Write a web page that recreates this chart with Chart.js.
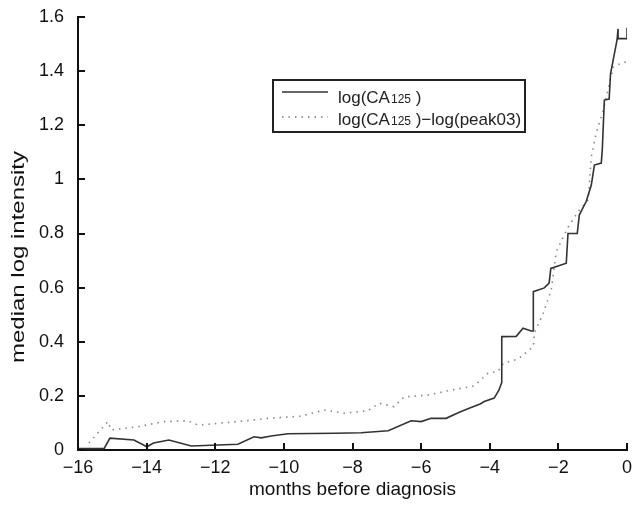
<!DOCTYPE html>
<html>
<head>
<meta charset="utf-8">
<script src="https://cdn.jsdelivr.net/npm/chart.js@4/dist/chart.umd.min.js"></script>
<style>
  html, body { margin: 0; padding: 0; background: #fff; }
  #wrap { width: 640px; height: 505px; }
</style>
</head>
<body>
<div id="wrap"><canvas id="chart"></canvas></div>
<script>
// months before diagnosis / median log intensity
let ca125X = [-16, -15.24, -15.07, -14.37, -13.99, -13.8, -13.35, -12.7, -11.34, -10.87, -10.66, -10.37, -9.88, -8.5, -7.75, -6.96, -6.29, -6.0, -5.71, -5.27, -4.92, -4.6, -4.28, -4.16, -3.87, -3.73, -3.65, -3.65, -3.23, -3.03, -2.79, -2.73, -2.73, -2.41, -2.27, -2.22, -2.01, -1.77, -1.72, -1.45, -1.39, -1.19, -1.04, -0.95, -0.75, -0.72, -0.66, -0.52, -0.48, -0.29, -0.26, -0.26, 0, 0]
let ca125Y = [0.005, 0.005, 0.044, 0.037, 0.012, 0.026, 0.037, 0.015, 0.021, 0.049, 0.045, 0.052, 0.06, 0.062, 0.064, 0.071, 0.108, 0.105, 0.117, 0.117, 0.138, 0.154, 0.17, 0.179, 0.192, 0.222, 0.25, 0.419, 0.42, 0.45, 0.44, 0.44, 0.585, 0.599, 0.617, 0.671, 0.68, 0.69, 0.8, 0.8, 0.868, 0.918, 0.979, 1.053, 1.06, 1.11, 1.293, 1.297, 1.39, 1.515, 1.556, 1.52, 1.52, 1.56]

let ratioX = [-15.68, -15.13, -15.04, -14.25, -13.5, -12.8, -12.5, -11.34, -10.46, -9.5, -8.83, -8.24, -7.55, -7.22, -6.79, -6.5, -5.8, -5.21, -4.45, -4.05, -3.76, -3.6, -3.17, -2.73, -2.7, -2.44, -2.21, -2.06, -1.71, -1.39, -1.13, -1.04, -0.9, -0.69, -0.4, -0.17, 0]
let ratioY = [0.026, 0.105, 0.074, 0.086, 0.105, 0.108, 0.092, 0.105, 0.117, 0.125, 0.148, 0.136, 0.145, 0.173, 0.16, 0.196, 0.203, 0.219, 0.237, 0.284, 0.29, 0.321, 0.336, 0.382, 0.432, 0.506, 0.591, 0.733, 0.825, 0.887, 0.924, 1.084, 1.17, 1.256, 1.416, 1.429, 1.435]

let xTicks = [-16, -14, -12, -10, -8, -6, -4, -2, 0]
let yTicks = [0, 0.2, 0.4, 0.6, 0.8, 1, 1.2, 1.4, 1.6]

const toPoints = (xs, ys) => xs.map((x, i) => ({ x: x, y: ys[i] }))

const FONT = "'Liberation Sans', Arial, sans-serif"

// ticks point into the plot, like the original figure
const inwardTicks = {
  id: 'inwardTicks',
  afterDraw(chart) {
    const c = chart.ctx, xs = chart.scales.x, ys = chart.scales.y
    const a = chart.chartArea
    c.save()
    c.strokeStyle = '#111'
    c.lineWidth = 2
    c.beginPath()
    xTicks.forEach(v => {
      const px = Math.round(xs.getPixelForValue(v))
      c.moveTo(px, a.bottom); c.lineTo(px, a.bottom - 7)
    })
    yTicks.forEach(v => {
      const py = Math.round(ys.getPixelForValue(v))
      c.moveTo(a.left, py); c.lineTo(a.left + 7, py)
    })
    c.stroke()
    c.restore()
  }
}

// y axis title: the original sits a bit below the middle and is tall and narrow
const yTitle = {
  id: 'yTitle',
  afterDraw(chart) {
    const c = chart.ctx
    const text = 'median log intensity'
    c.save()
    c.font = '19px ' + FONT
    c.fillStyle = '#111'
    c.textAlign = 'center'
    c.textBaseline = 'middle'
    const w = c.measureText(text).width
    c.translate(19, 257)
    c.rotate(-Math.PI / 2)
    c.scale(212 / w, 1)
    c.fillText(text, 0, 0)
    c.restore()
  }
}

// boxed legend with the subscript 125
const boxLegend = {
  id: 'boxLegend',
  afterDraw(chart) {
    const c = chart.ctx
    const bx = 273, by = 80, bw = 252, bh = 52
    c.save()
    c.fillStyle = '#fff'
    c.fillRect(bx, by, bw, bh)
    c.strokeStyle = '#222'
    c.lineWidth = 2
    c.strokeRect(bx, by, bw, bh)

    const rows = [
      { ly: 92, ty: 103, dash: [], color: '#333', rest: ' )' },
      { ly: 117, ty: 125, dash: [1.5, 5], color: '#777', rest: ' )\u2212log(peak03)' }
    ]
    rows.forEach(r => {
      c.beginPath()
      c.setLineDash(r.dash)
      c.strokeStyle = r.color
      c.lineWidth = 1.5
      c.moveTo(282, r.ly); c.lineTo(328, r.ly)
      c.stroke()
      c.setLineDash([])
      c.fillStyle = '#222'
      c.textBaseline = 'alphabetic'
      let x = 338
      c.font = '17px ' + FONT
      c.fillText('log(CA', x, r.ty)
      x += c.measureText('log(CA').width + 1
      c.font = '12px ' + FONT
      c.fillText('125', x, r.ty)
      x += c.measureText('125').width
      c.font = '17px ' + FONT
      c.fillText(r.rest, x, r.ty)
    })
    c.restore()
  }
}

new Chart(document.getElementById('chart'), {
  type: 'line',
  data: {
    datasets: [
      {
        label: 'log(CA125 )',
        data: toPoints(ca125X, ca125Y),
        borderColor: '#333',
        borderWidth: 1.6,
        pointRadius: 0,
        tension: 0
      },
      {
        label: 'log(CA125 )-log(peak03)',
        data: toPoints(ratioX, ratioY),
        borderColor: '#888',
        borderWidth: 1.6,
        borderDash: [1.5, 5],
        pointRadius: 0,
        tension: 0
      }
    ]
  },
  options: {
    responsive: true,
    maintainAspectRatio: false,
    animation: false,
    layout: { padding: { top: 17, right: 13, left: 0, bottom: 0 } },
    plugins: {
      legend: { display: false },
      tooltip: { enabled: false }
    },
    scales: {
      x: {
        type: 'linear',
        min: -16,
        max: 0,
        afterBuildTicks: s => { s.ticks = xTicks.map(v => ({ value: v })) },
        afterFit: s => { s.height = 55 },
        grid: { drawOnChartArea: false, drawTicks: false },
        border: { color: '#111', width: 2 },
        ticks: {
          color: '#111',
          padding: 7,
          maxRotation: 0,
          font: { family: FONT, size: 18 },
          callback: v => (v < 0 ? '\u2212' + Math.abs(v) : String(v))
        },
        title: {
          display: true,
          text: 'months before diagnosis',
          color: '#111',
          padding: { top: 2, bottom: 4 },
          font: { family: FONT, size: 19 }
        }
      },
      y: {
        min: 0,
        max: 1.6,
        afterBuildTicks: s => { s.ticks = yTicks.map(v => ({ value: v })) },
        afterFit: s => { s.width = 78; s.paddingTop = 0; s.paddingBottom = 0 },
        grid: { drawOnChartArea: false, drawTicks: false },
        border: { color: '#111', width: 2 },
        ticks: {
          color: '#111',
          padding: 14,
          font: { family: FONT, size: 18 },
          callback: v => String(Math.round(v * 10) / 10)
        },
        title: { display: false }
      }
    }
  },
  plugins: [inwardTicks, yTitle, boxLegend]
})
</script>
</body>
</html>
